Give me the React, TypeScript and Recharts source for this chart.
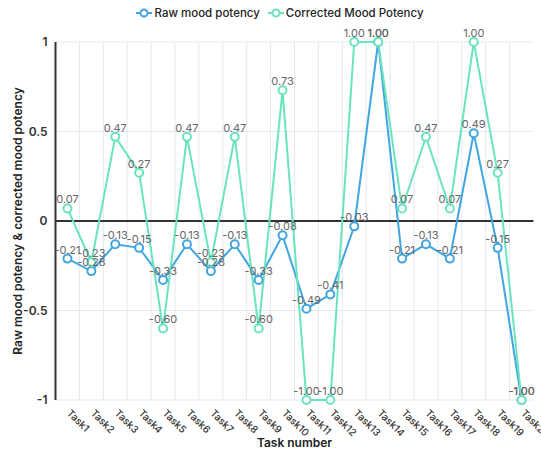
// Line chart: raw vs corrected mood potency per task.
// Two series on a -1..1 scale, with the zero line drawn as the dark axis.

import {
  LineChart,
  Line,
  XAxis,
  YAxis,
  CartesianGrid,
  ReferenceLine,
  LabelList,
} from 'recharts'

const tasks = [
  'Task1', 'Task2', 'Task3', 'Task4', 'Task5', 'Task6', 'Task7', 'Task8', 'Task9', 'Task10',
  'Task11', 'Task12', 'Task13', 'Task14', 'Task15', 'Task16', 'Task17', 'Task18', 'Task19', 'Task20',
]
const rawPotency = [
  -0.21, -0.28, -0.13, -0.15, -0.33, -0.13, -0.28, -0.13, -0.33, -0.08,
  -0.49, -0.41, -0.03, 1.0, -0.21, -0.13, -0.21, 0.49, -0.15, -1.0,
]
const correctedPotency = [
  0.07, -0.23, 0.47, 0.27, -0.6, 0.47, -0.23, 0.47, -0.6, 0.73,
  -1.0, -1.0, 1.0, 1.0, 0.07, 0.47, 0.07, 1.0, 0.27, -1.0,
]
const yTicks = [-1, -0.5, 0, 0.5, 1]

const RAW = '#41a6e0'
const CORRECTED = '#6ae4bf'
const GRID = '#e3e8f2'
const FONT = 'Inter, "Noto Sans", sans-serif'

// numeric x so the grid can sit on category boundaries (k + 0.5)
const data = tasks.map((t, i) => ({
  idx: i + 1,
  task: t,
  raw: rawPotency[i],
  corrected: correctedPotency[i],
}))
const boundaries = tasks.map((_, i) => i + 1.5).slice(0, -1)

function TaskTick({ x, y, payload }: any) {
  const tx = x + 4.5
  const ty = y + 2
  return (
    <text
      x={tx}
      y={ty}
      transform={`rotate(45, ${tx}, ${ty})`}
      textAnchor="start"
      dominantBaseline="hanging"
      fontSize={10}
      fontWeight={500}
      fill="#333"
      fontFamily={FONT}
    >
      {tasks[payload.value - 1]}
    </text>
  )
}

function LegendItem({ color, label }: { color: string; label: string }) {
  return (
    <span style={{ display: 'inline-flex', alignItems: 'center', margin: '0 2px' }}>
      <svg width={16} height={10} style={{ marginRight: 2 }}>
        <line x1={0} y1={5} x2={16} y2={5} stroke={color} strokeWidth={2} />
        <circle cx={8} cy={5} r={3.5} fill="#fff" stroke={color} strokeWidth={2} />
      </svg>
      {label}
    </span>
  )
}

export default function App() {
  const fmt = (v: any) => Number(v).toFixed(2)
  return (
    <div style={{ position: 'absolute', left: 0, top: 0, width: 541, height: 449, fontFamily: FONT }}>
      <div
        style={{
          position: 'absolute',
          top: 6,
          left: 0,
          width: 560,
          textAlign: 'center',
          fontSize: 11.5,
          fontWeight: 500,
          color: '#222',
          zIndex: 1,
        }}
      >
        <LegendItem color={RAW} label="Raw mood potency" />
        <span style={{ display: 'inline-block', width: 4 }} />
        <LegendItem color={CORRECTED} label="Corrected Mood Potency" />
      </div>
      <LineChart
        width={541}
        height={449}
        data={data}
        margin={{ top: 42, right: 7.5, bottom: 0, left: 0 }}
      >
        <CartesianGrid stroke={GRID} vertical={false} />
        {boundaries.map((b) => (
          <ReferenceLine key={b} x={b} stroke={GRID} />
        ))}
        <XAxis
          dataKey="idx"
          type="number"
          domain={[0.5, 20.5]}
          ticks={data.map((d) => d.idx)}
          interval={0}
          tick={<TaskTick />}
          tickLine={false}
          axisLine={false}
          tickMargin={0}
          height={49}
          label={{
            value: 'Task number',
            position: 'insideBottom',
            offset: 2,
            fontSize: 12,
            fontWeight: 600,
            fill: '#222',
          }}
        />
        <YAxis
          type="number"
          domain={[-1, 1]}
          ticks={yTicks}
          width={55.5}
          tickLine={false}
          axisLine={{ stroke: '#333', strokeWidth: 2 }}
          tick={{ fontSize: 12, fontWeight: 600, fill: '#333' }}
          label={{
            value: 'Raw mood potency & corrected mood potency',
            angle: -90,
            position: 'insideLeft',
            offset: 18,
            style: { textAnchor: 'middle' },
            fontSize: 12,
            fontWeight: 600,
            fill: '#222',
          }}
        />
        <ReferenceLine y={0} stroke="#333" strokeWidth={2} />
        <Line
          dataKey="raw"
          stroke={RAW}
          strokeWidth={2}
          dot={{ r: 4, fill: '#fff', stroke: RAW, strokeWidth: 2 }}
          isAnimationActive={false}
        >
          <LabelList dataKey="raw" position="top" formatter={fmt} fontSize={11} fill="#666" />
        </Line>
        <Line
          dataKey="corrected"
          stroke={CORRECTED}
          strokeWidth={2}
          dot={{ r: 4, fill: '#fff', stroke: CORRECTED, strokeWidth: 2 }}
          isAnimationActive={false}
        >
          <LabelList dataKey="corrected" position="top" formatter={fmt} fontSize={11} fill="#666" />
        </Line>
      </LineChart>
    </div>
  )
}
